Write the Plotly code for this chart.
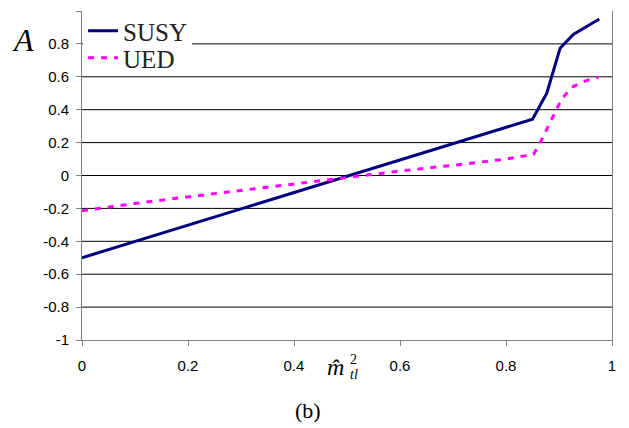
import plotly.graph_objects as go

# Data
susy_x = [0.0, 0.85, 0.877, 0.902, 0.927, 0.976]
susy_y = [-0.50, 0.342, 0.50, 0.773, 0.858, 0.951]
ued_x = [0.0, 0.1, 0.2, 0.3, 0.4, 0.5, 0.6, 0.7, 0.8, 0.852, 0.867, 0.892, 0.905, 0.924, 0.949, 0.974]
ued_y = [-0.215, -0.17, -0.13, -0.09, -0.05, -0.01, 0.027, 0.062, 0.10, 0.128, 0.216, 0.38, 0.465, 0.536, 0.574, 0.597]

y_tickvals = [-1, -0.8, -0.6, -0.4, -0.2, 0, 0.2, 0.4, 0.6, 0.8, 1]
y_ticktext = ["-1", "-0.8", "-0.6", "-0.4", "-0.2", "0", "0.2", "0.4", "0.6", "0.8", "1"]
x_tickvals = [0, 0.2, 0.4, 0.6, 0.8, 1]
x_ticktext = ["0", "0.2", "0.4", "0.6", "0.8", "1"]
grid_vals = [-0.8, -0.6, -0.4, -0.2, 0, 0.2, 0.4, 0.6, 0.8]

fig = go.Figure()
fig.add_trace(go.Scatter(x=susy_x, y=susy_y, mode="lines", name="SUSY",
                         line=dict(color="#000080", width=3), legend="legend"))
fig.add_trace(go.Scatter(x=ued_x, y=ued_y, mode="lines", name="UED",
                         line=dict(color="#FF00FF", width=3, dash="6px,7px"), legend="legend2"))

for v in grid_vals:
    fig.add_shape(type="line", xref="paper", x0=0, x1=1, yref="y", y0=v, y1=v,
                  line=dict(color="black", width=1), layer="below")

tickfont = dict(family="Liberation Sans, Arial", size=15, color="black")
fig.update_xaxes(range=[0, 1], tickvals=x_tickvals, ticktext=x_ticktext,
                 showgrid=False, zeroline=False, showline=True, linecolor="#808080",
                 linewidth=1, ticks="outside", ticklen=5, tickcolor="#808080",
                 tickfont=tickfont, ticklabelstandoff=7, automargin=False)
fig.update_yaxes(range=[-1, 1], tickvals=y_tickvals, ticktext=y_ticktext,
                 showgrid=False, zeroline=False, showline=True, mirror=True,
                 linecolor="#808080", linewidth=1, ticks="outside", ticklen=5,
                 tickcolor="#808080", tickfont=tickfont, ticklabelstandoff=4,
                 automargin=False)

serif = "Liberation Serif, Times New Roman, serif"
annots = [
    dict(text="<i>A</i>", x=-0.111, y=0.912, size=32),
    dict(text="<i>m\u0302</i>", x=(335 - 82) / 530, y=(340 - 367) / 329, size=24),
    dict(text="2", x=(353 - 82) / 530, y=(340 - 359) / 329, size=14),
    dict(text="<i>tl</i>", x=(354 - 82) / 530, y=(340 - 374) / 329, size=14),
    dict(text="(b)", x=(308 - 82) / 530, y=(340 - 410) / 329, size=22),
]
for a in annots:
    fig.add_annotation(text=a["text"], x=a["x"], y=a["y"], xref="paper", yref="paper",
                       showarrow=False, xanchor="center", yanchor="middle",
                       font=dict(family=serif, size=a["size"], color="black"))

legfont = dict(family=serif, size=25, color="#222222")
fig.update_layout(
    width=629, height=428,
    margin=dict(l=74, r=25, t=3, b=96, autoexpand=False),
    paper_bgcolor="white", plot_bgcolor="white",
    showlegend=True,
    legend=dict(x=0.002, y=(340 - 31) / 329, xanchor="left", yanchor="middle",
                bgcolor="white", borderwidth=0, font=legfont, itemwidth=30),
    legend2=dict(x=0.002, y=(340 - 58) / 329, xanchor="left", yanchor="middle",
                 bgcolor="rgba(0,0,0,0)", borderwidth=0, font=legfont, itemwidth=30),
)

fig.write_html("out.html")
